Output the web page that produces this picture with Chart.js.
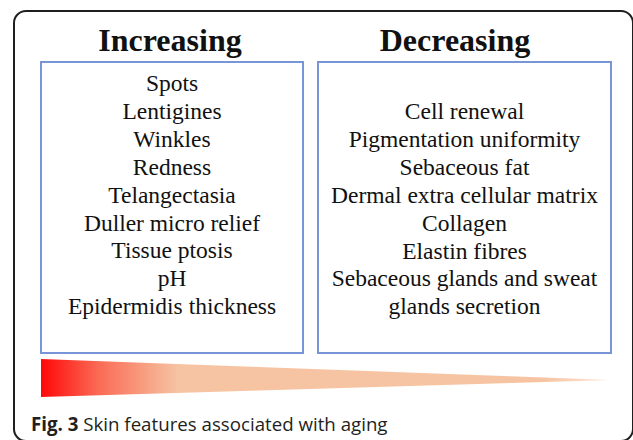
<!DOCTYPE html>
<html>
<head>
<meta charset="utf-8">
<script src="https://cdn.jsdelivr.net/npm/chart.js@4/dist/chart.umd.min.js"></script>
<style>
  html, body { margin: 0; padding: 0; background: #fff; }
  body { width: 633px; height: 440px; position: relative; overflow: hidden; }
  .frame {
    position: absolute; left: 13px; top: 10px; width: 621px; height: 432px;
    box-sizing: border-box; border: 2px solid #1f1f1f; border-radius: 13px;
  }
  .heading {
    position: absolute; top: 24px; width: 300px; text-align: center;
    font: bold 32px/32px "Liberation Serif", "Times New Roman", serif; color: #111;
  }
  .box {
    position: absolute; top: 61px; height: 293px; box-sizing: border-box;
    border: 2px solid #7895d8;
  }
  .list {
    position: absolute; text-align: center; white-space: nowrap;
    font: 23.5px/27.9px "Liberation Serif", "Times New Roman", serif; color: #111;
  }
  .caption {
    position: absolute; left: 31px; top: 414px; white-space: nowrap;
    font: 18.7px/20px "Open Sans", sans-serif; color: #231f20;
  }
  .caption b { font-weight: 700; }
  #wedge { position: absolute; left: 41px; top: 359px; }
</style>
</head>
<body>
<div class="frame"></div>
<div class="heading" id="headLeft" style="left:20px"></div>
<div class="heading" id="headRight" style="left:305px"></div>
<div class="box" style="left:40px; width:264px"></div>
<div class="box" style="left:317px; width:295px"></div>
<div class="list" id="listLeft" style="left:40px; width:264px; top:70px"></div>
<div class="list" id="listRight" style="left:317px; width:295px; top:98px"></div>
<canvas id="wedge" width="571" height="38"></canvas>
<div class="caption"><b>Fig. 3</b> Skin features associated with aging</div>

<script>
const headings = ['Increasing', 'Decreasing'];

const increasing = [
  'Spots', 'Lentigines', 'Winkles', 'Redness', 'Telangectasia',
  'Duller micro relief', 'Tissue ptosis', 'pH', 'Epidermidis thickness'
];

const decreasing = [
  'Cell renewal', 'Pigmentation uniformity', 'Sebaceous fat',
  'Dermal extra cellular matrix', 'Collagen', 'Elastin fibres',
  'Sebaceous glands and sweat', 'glands secretion'
];

// wedge: ageing axis 0 -> 1, upper / lower edge relative to the tip
const ageAxis = [0, 1];
const upperEdge = [21, 0];
const lowerEdge = [-17, 0];

document.getElementById('headLeft').textContent = headings[0];
document.getElementById('headRight').textContent = headings[1];

const fillList = (id, items) => {
  const el = document.getElementById(id);
  items.forEach(t => {
    const d = document.createElement('div');
    d.textContent = t;
    el.appendChild(d);
  });
};
fillList('listLeft', increasing);
fillList('listRight', decreasing);

const wedgeFill = (ctx) => {
  const { ctx: c, chartArea } = ctx.chart;
  if (!chartArea) return 'rgba(0,0,0,0)';
  const g = c.createLinearGradient(chartArea.left, 0, chartArea.right, 0);
  g.addColorStop(0, '#ff0808');
  g.addColorStop(0.1, '#fa6a55');
  g.addColorStop(0.24, '#f6c4a2');
  g.addColorStop(0.88, '#f6c4a2');
  g.addColorStop(1, '#fde9dc');
  return g;
};

new Chart(document.getElementById('wedge'), {
  type: 'line',
  data: {
    labels: ageAxis,
    datasets: [
      {
        data: upperEdge.map((v, i) => ({ x: ageAxis[i], y: v })),
        fill: '+1',
        backgroundColor: wedgeFill,
        borderColor: 'rgba(0,0,0,0)',
        borderWidth: 0,
        pointRadius: 0,
        tension: 0,
      },
      {
        data: lowerEdge.map((v, i) => ({ x: ageAxis[i], y: v })),
        fill: false,
        borderColor: 'rgba(0,0,0,0)',
        borderWidth: 0,
        pointRadius: 0,
        tension: 0,
      }
    ]
  },
  options: {
    responsive: false,
    animation: false,
    devicePixelRatio: 1,
    layout: { padding: 0 },
    plugins: { legend: { display: false }, tooltip: { enabled: false } },
    scales: {
      x: { type: 'linear', min: 0, max: 1, display: false },
      y: { min: -17, max: 21, display: false }
    }
  }
});
</script>
</body>
</html>
